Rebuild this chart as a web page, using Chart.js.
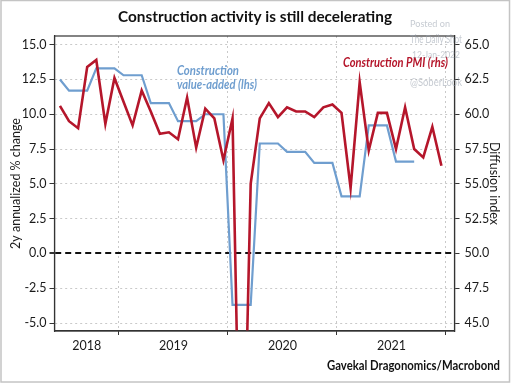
<!DOCTYPE html>
<html>
<head>
<meta charset="utf-8">
<script src="https://cdn.jsdelivr.net/npm/chart.js@4"></script>
<style>
    html, body { margin: 0; padding: 0; background: #fff; }
    #chart { display: block; }
</style>
</head>
<body>
<canvas id="chart" width="511" height="384"></canvas>
<script>
// Monthly observations, Jun 2018 - Dec 2021
const months = [
    '2018-06', '2018-07', '2018-08', '2018-09', '2018-10', '2018-11', '2018-12',
    '2019-01', '2019-02', '2019-03', '2019-04', '2019-05', '2019-06',
    '2019-07', '2019-08', '2019-09', '2019-10', '2019-11', '2019-12',
    '2020-01', '2020-02', '2020-03', '2020-04', '2020-05', '2020-06',
    '2020-07', '2020-08', '2020-09', '2020-10', '2020-11', '2020-12',
    '2021-01', '2021-02', '2021-03', '2021-04', '2021-05', '2021-06',
    '2021-07', '2021-08', '2021-09', '2021-10', '2021-11', '2021-12'
];

// Construction PMI (rhs, diffusion index)
const constructionPmi = [
    60.6, 59.5, 59.0, 63.4, 63.9, 59.3, 62.6,
    60.9, 59.2, 61.7, 60.2, 58.6, 58.7,
    58.2, 61.2, 57.6, 60.4, 59.7, 56.7,
    59.7, 26.6, 55.0, 59.7, 60.8, 59.8,
    60.5, 60.2, 60.2, 59.8, 60.5, 60.7,
    60.1, 54.7, 62.3, 57.4, 60.1, 60.1,
    57.5, 60.5, 57.5, 56.9, 59.1, 56.3
];

// Construction value-added (lhs, 2y annualized % change), Jun 2018 - Sep 2021
const valueAdded = [
    12.5, 11.7, 11.7, 11.7, 13.3, 13.3, 13.3,
    12.8, 12.8, 12.8, 10.8, 10.8, 10.8,
    9.5, 9.5, 9.5, 10.0, 10.0, 10.0,
    -3.7, -3.7, -3.7, 7.9, 7.9, 7.9,
    7.3, 7.3, 7.3, 6.5, 6.5, 6.5,
    4.1, 4.1, 4.1, 9.2, 9.2, 9.2,
    6.6, 6.6, 6.6
];

const leftTicks = [-5, -2.5, 0, 2.5, 5, 7.5, 10, 12.5, 15];
const rightTicks = [45, 47.5, 50, 52.5, 55, 57.5, 60, 62.5, 65];
const yearLabels = ['2018', '2019', '2020', '2021'];
const yearStarts = ['2019-01', '2020-01', '2021-01', '2022-01'];

// x is months since Jan 2018, points sit mid-month
function monthPos(m) {
    const [y, mo] = m.split('-').map(Number);
    return (y - 2018) * 12 + (mo - 1);
}
const X_MIN = 4.9, X_MAX = 48.94;
const boundaryTicks = yearStarts.map(monthPos);
// year labels centred on the visible part of each year
const labelTicks = yearLabels.map(y => {
    const a = Math.max(monthPos(y + '-01'), X_MIN);
    const b = Math.min(monthPos(y + '-01') + 12, X_MAX);
    return (a + b) / 2;
});
const xTicks = [...boundaryTicks, ...labelTicks].sort((a, b) => a - b);

const pmiPoints = constructionPmi.map((v, i) => ({ x: monthPos(months[i]) + 0.5, y: v }));
const vaPoints = valueAdded.map((v, i) => ({ x: monthPos(months[i]) + 0.5, y: v }));

const RED = '#b5162b';
const BLUE = '#6f9ecf';
const GRID = '#c9c9c9';
const INK = '#1a1a1a';

Chart.defaults.font.family = 'Lato, "Open Sans", sans-serif';
Chart.defaults.color = INK;

// draw text squeezed to a target width (the original uses a condensed face)
function fitText(ctx, text, x, y, width, font, color, align) {
    ctx.save();
    ctx.font = font;
    ctx.fillStyle = color;
    ctx.textBaseline = 'alphabetic';
    const w = ctx.measureText(text).width;
    const k = width / w;
    ctx.translate(x, y);
    ctx.scale(k, 1);
    ctx.textAlign = align || 'left';
    ctx.fillText(text, 0, 0);
    ctx.restore();
}

const decorations = {
    id: 'decorations',
    afterDraw(chart) {
        const { ctx, chartArea: a } = chart;
        ctx.save();
        // plot frame
        ctx.strokeStyle = '#333';
        ctx.lineWidth = 1.2;
        ctx.strokeRect(a.left, a.top, a.right - a.left, a.bottom - a.top);
        // outer picture border
        ctx.strokeStyle = '#c4c4c4';
        ctx.lineWidth = 1.5;
        ctx.strokeRect(1, 0.5, 508.5, 381.5);
        ctx.restore();

        fitText(ctx, 'Construction activity is still decelerating', 255, 21.5, 274,
            'bold 16px Lato', '#111', 'center');

        fitText(ctx, 'Construction', 177, 75, 62, 'italic bold 12.5px Lato', BLUE);
        fitText(ctx, 'value-added (lhs)', 177, 88.5, 80, 'italic bold 12.5px Lato', BLUE);
        fitText(ctx, 'Construction PMI (rhs)', 343, 67, 105, 'italic bold 12.5px Lato', RED);

        fitText(ctx, 'Gavekal Dragonomics/Macrobond', 500, 369.5, 173, 'bold 12.5px Lato', '#111', 'right');

        // watermark
        const wm = 'rgba(150,158,172,0.55)';
        fitText(ctx, 'Posted on', 410, 26.5, 40, '9.5px Lato', wm, 'left');
        fitText(ctx, 'The Daily Shot', 436, 43, 52, '12px Lato', wm, 'center');
        fitText(ctx, '12-Jan-2022', 436, 58, 48, '9.5px Lato', wm, 'center');
        fitText(ctx, '@SoberLook', 436, 86, 52, '11.5px Lato', wm, 'center');
    }
};

new Chart(document.getElementById('chart'), {
    type: 'line',
    data: {
        datasets: [
            {
                label: 'Construction PMI (rhs)',
                data: pmiPoints,
                yAxisID: 'y2',
                borderColor: RED,
                borderWidth: 2.6,
                pointRadius: 0,
                tension: 0
            },
            {
                label: 'Construction value-added (lhs)',
                data: vaPoints,
                yAxisID: 'y',
                borderColor: BLUE,
                borderWidth: 2.2,
                pointRadius: 0,
                tension: 0
            }
        ]
    },
    options: {
        responsive: false,
        animation: false,
        layout: { padding: { top: 36, left: 0, right: 0, bottom: 0 } },
        plugins: {
            legend: { display: false },
            tooltip: { enabled: false }
        },
        scales: {
            x: {
                type: 'linear',
                min: X_MIN,
                max: X_MAX,
                afterBuildTicks: s => { s.ticks = xTicks.map(v => ({ value: v })); },
                afterFit: s => { s.height = 53; },
                ticks: {
                    autoSkip: false,
                    maxRotation: 0,
                    padding: 3,
                    font: { size: 12.5 },
                    callback: v => {
                        const i = labelTicks.indexOf(v);
                        return i >= 0 ? yearLabels[i] : '';
                    }
                },
                grid: {
                    color: c => c.tick && boundaryTicks.includes(c.tick.value) ? GRID : 'rgba(0,0,0,0)',
                    tickColor: c => c.tick && boundaryTicks.includes(c.tick.value) ? '#333' : 'rgba(0,0,0,0)',
                    tickLength: 4,
                    lineWidth: 1
                },
                border: { color: '#333', width: 1.2, dash: [2, 3] }
            },
            y: {
                position: 'left',
                min: -5.57,
                max: 15.62,
                afterBuildTicks: s => { s.ticks = leftTicks.map(v => ({ value: v })); },
                afterFit: s => { s.width = 54.5; },
                ticks: {
                    padding: 3,
                    font: { size: 12.5 },
                    callback: v => v.toFixed(1)
                },
                grid: {
                    color: c => c.tick && c.tick.value === 0 ? '#111' : GRID,
                    lineWidth: c => c.tick && c.tick.value === 0 ? 2 : 1,
                    tickColor: '#333',
                    tickLength: 5
                },
                border: {
                    color: '#333',
                    width: 1.2,
                    dash: c => c.tick && c.tick.value === 0 ? [6, 4] : [2, 3]
                },
                title: {
                    display: true,
                    text: '2y annualized % change',
                    font: { size: 12.5 },
                    padding: { top: 8, bottom: 0 }
                }
            },
            y2: {
                position: 'right',
                min: 44.43,
                max: 65.62,
                afterBuildTicks: s => { s.ticks = rightTicks.map(v => ({ value: v })); },
                afterFit: s => { s.width = 56.5; },
                ticks: {
                    padding: 5,
                    font: { size: 12.5 },
                    callback: v => v.toFixed(1)
                },
                grid: {
                    drawOnChartArea: false,
                    tickColor: '#333',
                    tickLength: 5
                },
                border: { color: '#333', width: 1.2 },
                title: {
                    display: true,
                    text: 'Diffusion index',
                    font: { size: 12.5 },
                    padding: { top: 9, bottom: 0 }
                }
            }
        }
    },
    plugins: [decorations]
});
</script>
</body>
</html>
